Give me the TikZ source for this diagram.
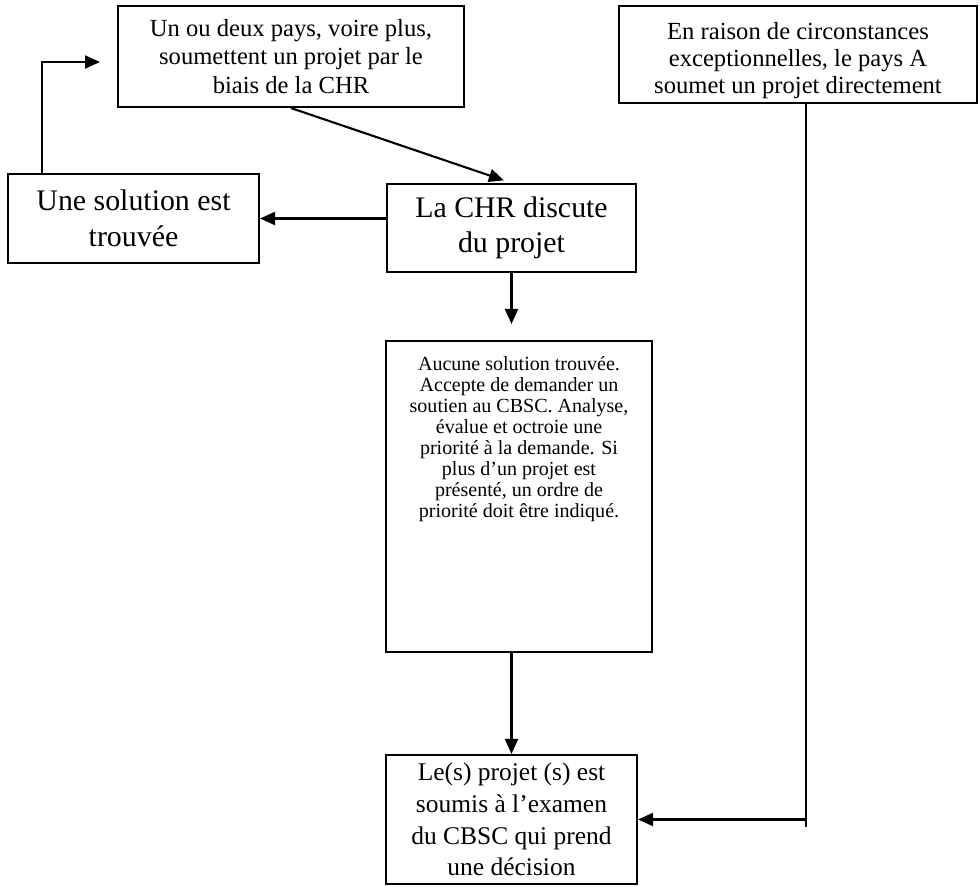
\documentclass[tikz,border=0pt]{standalone}
\usepackage{fontspec}
\setmainfont{Liberation Serif}
\usetikzlibrary{arrows.meta}

\begin{document}
\begin{tikzpicture}[x=0.02cm,y=-0.02cm,line width=1.2pt]
\tikzstyle{box}=[draw, fill=white, align=center, inner sep=2pt]
\tikzstyle{arr}=[-{Triangle[length=0.3cm,width=0.26cm]}]
\useasboundingbox (0,0) rectangle (980,886);

\node [box, minimum width=6.92cm, minimum height=2.02cm, font=\fontsize{14}{16.4}\selectfont] (pays) at (291,56.5)
  {Un ou deux pays, voire plus,\\soumettent un projet par le\\biais de la CHR};
\node [box, minimum width=7.16cm, minimum height=1.94cm, font=\fontsize{14}{15.4}\selectfont] (direct) at (798,54.5)
  {\rule{0pt}{0.6cm}En raison de circonstances\\exceptionnelles, le pays A\\soumet un projet directement};
\node [box, minimum width=5.02cm, minimum height=1.78cm, font=\fontsize{17}{20.4}\selectfont] (sol) at (133.5,218.5)
  {Une solution est\\trouvée};
\node [box, minimum width=4.98cm, minimum height=1.76cm, font=\fontsize{17}{20}\selectfont] (chr) at (511.5,228)
  {La CHR discute\\du projet};
\node [box, minimum width=5.32cm, minimum height=6.22cm,
  label={[anchor=north, yshift=-0.2cm, align=center, font=\fontsize{11.4}{11.9}\selectfont]north:{Aucune solution trouvée.\\Accepte de demander un\\soutien au CBSC. Analyse,\\évalue et octroie une\\priorité à la demande. Si\\plus d’un projet est\\présenté, un ordre de\\priorité doit être indiqué.}}] (aucune) at (519,496.5) {};
\node [box, minimum width=5.02cm, minimum height=2.58cm, font=\fontsize{14.5}{18}\selectfont] (decision) at (511.5,819.5)
  {Le(s) projet (s) est\\soumis à l’examen\\du CBSC qui prend\\une décision};

\coordinate (retour) at (100,62);
\coordinate (coin) at (806,827);

\draw [arr] ([xshift=0.7cm]sol.north west) |- (retour);
\draw [arr, shorten >=0.16cm] (pays.south) -- (chr.north);
\draw [arr] (sol.east -| chr.west) -- (sol.east);
\draw [arr, shorten >=0.32cm] (chr.south) -- (chr.south |- aucune.north);
\draw [arr] (aucune.south -| chr.south) -- (decision.north);
\draw (direct.south -| coin) -- (coin);
\draw [arr] (decision.east -| coin) -- (decision.east);
\end{tikzpicture}
\end{document}
